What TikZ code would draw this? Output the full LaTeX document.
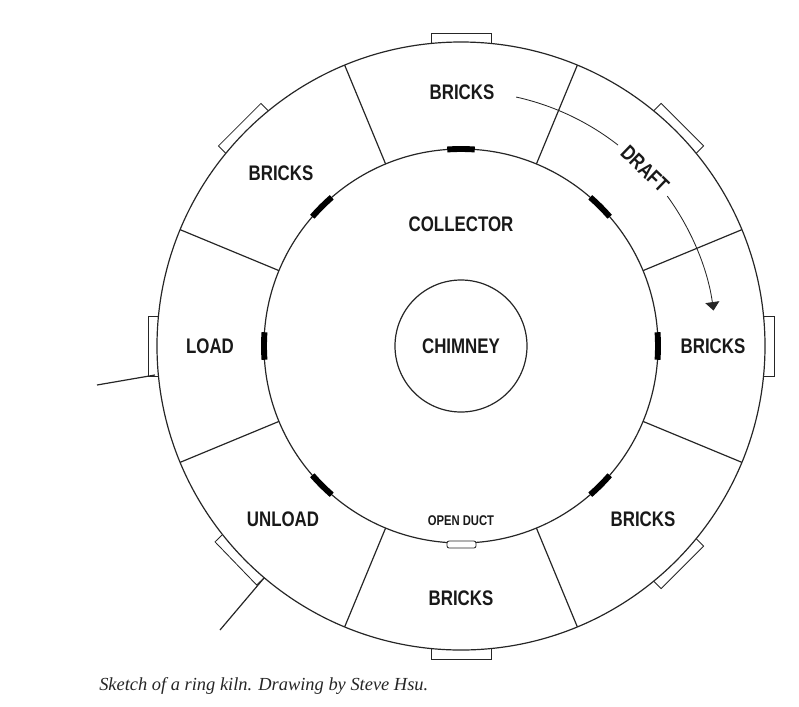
\documentclass[tikz,border=0pt]{standalone}
\usepackage{fontspec}
\setmainfont{Liberation Serif}
\newfontfamily\kilnfont[FakeStretch=0.8]{Liberation Sans}
\usetikzlibrary{arrows.meta}

\begin{document}
\begin{tikzpicture}[x=0.025cm,y=0.025cm,
        wall/.style={draw=black!85,line width=0.85pt},
        door/.style={draw=black!85,line width=0.6pt},
        flue/.style={draw=black,line width=4.2pt},
        kilnlabel/.style={font=\kilnfont\bfseries\fontsize{15}{16}\selectfont,text=black!90,inner sep=0pt},
        ductlabel/.style={font=\kilnfont\bfseries\fontsize{10}{11}\selectfont,text=black!90,inner sep=0pt}]
        \useasboundingbox (-461,-360) rectangle (338,346);
        \draw[wall] (0,0) circle [radius=304];
        \draw[wall] (0,0) circle [radius=197];
        \draw[wall] (0,0) circle [radius=66];
        % partitions
        \foreach \a in {22.5,67.5,...,337.5}
            \draw[wall] (\a:197) -- (\a:304);
        % wicket doors
        \foreach \a in {0,45,90,135,180,224,270,315}
            \draw[door,rotate=\a] (302.5,-30) -- (313,-30) -- (313,30) -- (302.5,30);
        % flues to collector
        \foreach \a in {0,45,90,135,180,225,315}
            \draw[flue] (\a-4:197) arc [start angle=\a-4,end angle=\a+4,radius=197];
        \draw[door,fill=white,rounded corners=1.5pt] (-14,-195) rectangle (15,-202);
        % draft
        \draw[door] (77.5:255) arc [start angle=77.5,end angle=52,radius=255];
        \draw[door,-{Triangle[length=6pt,width=10pt]}] (36:255) arc [start angle=36,end angle=8,radius=255];
        \node[kilnlabel,rotate=-44] (draft) at (184,177) {DRAFT};
        % labels
        \node[kilnlabel] (bricksn) at (1,254) {BRICKS};
        \node[kilnlabel] (bricksnw) at (-180,173) {BRICKS};
        \node[kilnlabel] (collector) at (0,122) {COLLECTOR};
        \node[kilnlabel] (chimney) at (0,0) {CHIMNEY};
        \node[kilnlabel] (load) at (-251,0) {LOAD};
        \node[kilnlabel] (brickse) at (252,0) {BRICKS};
        \node[kilnlabel] (unload) at (-178,-173) {UNLOAD};
        \node[ductlabel] (duct) at (0,-175) {OPEN DUCT};
        \node[kilnlabel] (bricksse) at (182,-173) {BRICKS};
        \node[kilnlabel] (brickss) at (0,-252) {BRICKS};
        % flue pipes
        \coordinate (loadtop) at (-306,-29);
        \coordinate (loadend) at (-364,-39);
        \coordinate (unloadtop) at (-197,-232);
        \coordinate (unloadend) at (-241,-284);
        \draw[wall] (loadtop) -- (loadend);
        \draw[wall] (unloadtop) -- (unloadend);
        \node[anchor=west,inner sep=0pt,font=\itshape\fontsize{13.1}{14}\selectfont,text=black!85] (caption) at (-362,-340) {Sketch of a ring kiln. Drawing by Steve Hsu.};
    \end{tikzpicture}
\end{document}
